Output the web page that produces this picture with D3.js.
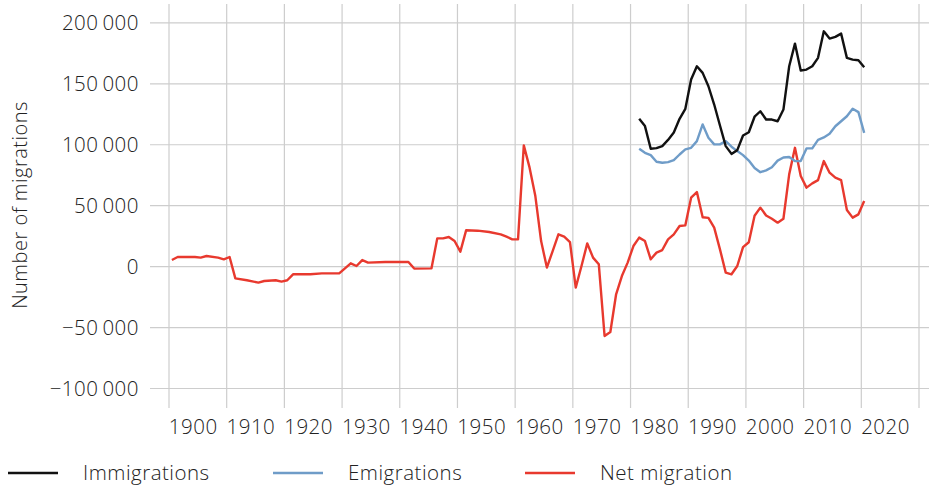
<!DOCTYPE html>
<html>
<head>
<meta charset="utf-8">
<script src="https://cdn.jsdelivr.net/npm/d3@7"></script>
<style>
  body { margin: 0; background: #fff; }
  svg text { font-family: "Open Sans", Roboto, sans-serif; font-weight: 300; fill: #222; letter-spacing: 0.5px; }
</style>
</head>
<body>
<svg id="chart"></svg>
<script>
// ======================
// DATA
// ======================

const decadeTicks = [1900, 1910, 1920, 1930, 1940, 1950, 1960, 1970, 1980, 1990, 2000, 2010, 2020];
const valueTicks = [-100000, -50000, 0, 50000, 100000, 150000, 200000];

// yearly values 1981-2020
const flowYears = d3.range(1981, 2021);
const immigrations = [121300, 115300, 96700, 97200, 98900, 104000, 110000, 121300, 129500, 153500,
    164400, 159000, 148000, 133000, 115800, 98900, 92500, 95600, 107600, 110300,
    123000, 127500, 120700, 120700, 119300, 128900, 164400, 183000, 160900, 161700,
    164400, 171300, 193100, 187100, 188500, 191200, 171300, 169900, 169300, 163600];
const emigrations = [96700, 93400, 91500, 86100, 85200, 85800, 87400, 92000, 96200, 97500,
    103000, 116700, 105800, 100300, 100300, 103000, 98400, 94800, 91500, 87000,
    81000, 77500, 79000, 81500, 87000, 89500, 90000, 86600, 86600, 97000,
    97000, 104000, 106000, 109000, 115200, 119300, 123400, 129500, 126800, 109800];

// net migration, [year, value]
const netMigration = [
    [1900, 5400], [1901, 7900], [1904, 7900], [1905, 7400], [1906, 8700], [1908, 7400],
    [1909, 6000], [1910, 7900], [1911, -9600], [1913, -11200], [1915, -13100], [1916, -11800],
    [1918, -11200], [1919, -12300], [1920, -11200], [1921, -6300], [1924, -6300], [1926, -5500],
    [1929, -5500], [1931, 2700], [1932, 500], [1933, 5400], [1934, 3300], [1937, 3800],
    [1941, 3800], [1942, -1600], [1945, -1400], [1946, 23200], [1947, 23200], [1948, 24300],
    [1949, 21000], [1950, 12300], [1951, 29800], [1953, 29500], [1955, 28400], [1957, 26500],
    [1958, 24600], [1959, 22400], [1960, 22400], [1961, 99500], [1962, 81200], [1963, 57900],
    [1964, 21000], [1965, -800], [1966, 12800], [1967, 26500], [1968, 24600], [1969, 20200],
    [1970, -17200], [1971, 500], [1972, 19100], [1973, 7400], [1974, 1900], [1975, -56900],
    [1976, -53600], [1977, -22700], [1978, -7700], [1979, 3300], [1980, 16900], [1981, 23800],
    [1982, 21000], [1983, 6000], [1984, 11500], [1985, 13600], [1986, 22400], [1987, 26500],
    [1988, 33300], [1989, 33900], [1990, 56600], [1991, 61200], [1992, 40500], [1993, 40000],
    [1994, 32000], [1995, 14200], [1996, -4900], [1997, -6300], [1998, 500], [1999, 16000],
    [2000, 20000], [2001, 41700], [2002, 48400], [2003, 42000], [2004, 39300], [2005, 36100],
    [2006, 39300], [2007, 75700], [2008, 97500], [2009, 74300], [2010, 64800], [2011, 68300],
    [2012, 71000], [2013, 86600], [2014, 77100], [2015, 73000], [2016, 71000], [2017, 46400],
    [2018, 40200], [2019, 42900], [2020, 53800]
];

const seriesNames = ["Immigrations", "Emigrations", "Net migration"];

// ======================
// SETUP
// ======================

const width = 929;
const height = 486;
const colors = { imm: "#111111", emi: "#6f9cc8", net: "#e8392e" };
const gridColor = "#cdcdcd";
const fontSize = "20.5px";

const svg = d3.select("#chart").attr("width", width).attr("height", height);

const xScale = d3.scaleLinear().domain([1900, 2030]).range([169, 919]);
const yScale = d3.scaleLinear().domain([-116000, 215500]).range([408, 4]);

const fmt = d3.formatLocale({ decimal: ".", thousands: "\u2009", grouping: [3], currency: ["", ""], minus: "\u2212" }).format(",d");

// grid
const gridG = svg.append("g");
gridG.selectAll(".vgrid")
    .data(decadeTicks.concat([2030]))
    .join("line")
    .attr("x1", d => xScale(d)).attr("x2", d => xScale(d))
    .attr("y1", yScale.range()[1]).attr("y2", yScale.range()[0])
    .attr("stroke", gridColor).attr("stroke-width", 1.2);
gridG.selectAll(".hgrid")
    .data(valueTicks)
    .join("line")
    .attr("x1", 150).attr("x2", width)
    .attr("y1", d => yScale(d)).attr("y2", d => yScale(d))
    .attr("stroke", gridColor).attr("stroke-width", 1.2);

// y labels
svg.append("g").selectAll("text")
    .data(valueTicks)
    .join("text")
    .attr("x", 139)
    .attr("y", d => yScale(d))
    .attr("dy", "0.36em")
    .attr("text-anchor", "end")
    .style("font-size", fontSize)
    .text(d => fmt(d));

// x labels: centred in each decade
svg.append("g").selectAll("text")
    .data(decadeTicks)
    .join("text")
    .attr("x", d => xScale(d + 4.2))
    .attr("y", 434)
    .attr("text-anchor", "middle")
    .style("font-size", fontSize)
    .text(d => d);

// axis title
svg.append("text")
    .attr("transform", "translate(27,205) rotate(-90)")
    .attr("text-anchor", "middle")
    .style("font-size", "20px")
    .text("Number of migrations");

// ======================
// LINES
// ======================

const line = d3.line()
    .x(d => xScale(d[0] + 0.5))
    .y(d => yScale(d[1]));

const immData = flowYears.map((y, i) => [y, immigrations[i]]);
const emiData = flowYears.map((y, i) => [y, emigrations[i]]);

svg.append("path").datum(netMigration)
    .attr("d", line).attr("fill", "none")
    .attr("stroke", colors.net).attr("stroke-width", 2.4).attr("stroke-linejoin", "round");
svg.append("path").datum(emiData)
    .attr("d", line).attr("fill", "none")
    .attr("stroke", colors.emi).attr("stroke-width", 2.4).attr("stroke-linejoin", "round");
svg.append("path").datum(immData)
    .attr("d", line).attr("fill", "none")
    .attr("stroke", colors.imm).attr("stroke-width", 2.4).attr("stroke-linejoin", "round");

// ======================
// LEGEND
// ======================

const legendItems = [
    { name: seriesNames[0], color: colors.imm, x: 8 },
    { name: seriesNames[1], color: colors.emi, x: 273 },
    { name: seriesNames[2], color: colors.net, x: 525 }
];
const legendG = svg.append("g").selectAll("g")
    .data(legendItems)
    .join("g")
    .attr("transform", d => `translate(${d.x},473)`);
legendG.append("line")
    .attr("x1", 0).attr("x2", 50)
    .attr("stroke", d => d.color).attr("stroke-width", 2.6);
legendG.append("text")
    .attr("x", 75).attr("dy", "0.36em")
    .style("font-size", fontSize)
    .text(d => d.name);
</script>
</body>
</html>
